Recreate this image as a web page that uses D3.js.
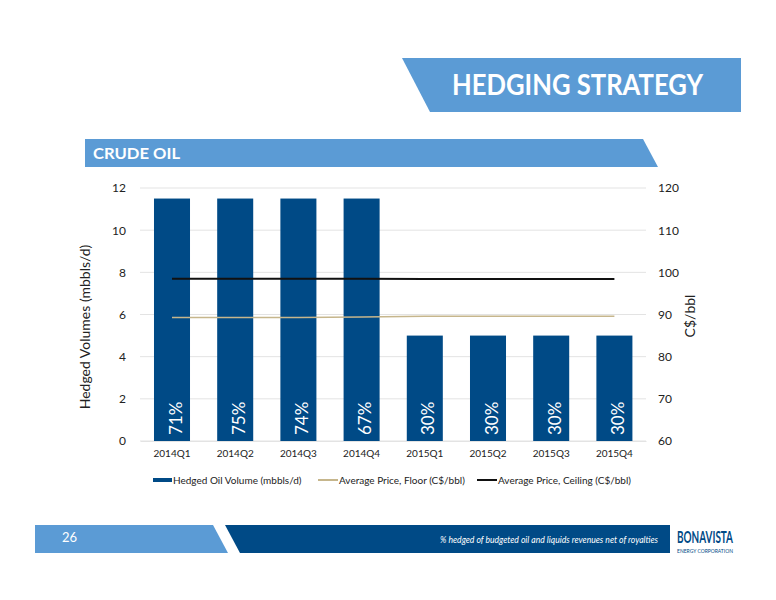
<!DOCTYPE html>
<html><head><meta charset="utf-8">
<script src="https://cdn.jsdelivr.net/npm/d3@7/dist/d3.min.js"></script>
<style>body{margin:0;background:#fff}svg{display:block;font-family:Lato,"Open Sans",sans-serif}</style>
</head><body><svg id="c" width="776" height="600"></svg>
<script>
const categories = ["2014Q1","2014Q2","2014Q3","2014Q4","2015Q1","2015Q2","2015Q3","2015Q4"];
const volumes = [11.5,11.5,11.5,11.5,5,5,5,5];
const floorPrice = [89.3,89.3,89.3,89.4,89.6,89.6,89.6,89.6];
const ceilingPrice = [98.5,98.5,98.5,98.5,98.4,98.4,98.4,98.4];
const pctLabels = ["71%","75%","74%","67%","30%","30%","30%","30%"];
const leftTicks = [0,2,4,6,8,10,12];
const rightTicks = [60,70,80,90,100,110,120];

const navy = "#004A86", blue = "#5B9BD5";
const svg = d3.select("#c");

// Title banner
svg.append("polygon").attr("points","402,58 741,58 741,112 430,112").attr("fill",blue);
svg.append("text").attr("x",452).attr("y",95).attr("fill","#fff").attr("font-weight","bold")
  .attr("font-size",28).attr("textLength",251).attr("lengthAdjust","spacingAndGlyphs").text("HEDGING STRATEGY");

// Crude oil banner
svg.append("polygon").attr("points","85,139 643,139 658,167 85,167").attr("fill",blue);
svg.append("text").attr("x",93).attr("y",159).attr("fill","#fff").attr("font-weight","bold")
  .attr("font-size",15).attr("textLength",87).attr("lengthAdjust","spacingAndGlyphs").text("CRUDE OIL");

// Scales
const x = d3.scaleBand().domain(categories).range([140.4,646]).paddingInner(0.43).paddingOuter(0.215);
const y = d3.scaleLinear().domain([0,12]).range([441,188]);
const y2 = d3.scaleLinear().domain([60,120]).range([441,188]);

// gridlines
svg.append("g").selectAll("line").data(leftTicks).join("line")
  .attr("x1",140).attr("x2",646).attr("y1",d=>y(d)).attr("y2",d=>y(d))
  .attr("stroke","#e3e3e3").attr("stroke-width",1);

// left axis
const la = svg.append("g").attr("transform","translate(140,0)")
  .call(d3.axisLeft(y).tickValues(leftTicks).tickSize(0).tickPadding(14).tickFormat(d3.format("d")));
la.select(".domain").remove();
la.selectAll("text").attr("font-size",12).attr("fill","#222").attr("font-family","Lato,sans-serif");

// right axis
const ra = svg.append("g").attr("transform","translate(646,0)")
  .call(d3.axisRight(y2).tickValues(rightTicks).tickSize(0).tickPadding(12));
ra.select(".domain").remove();
ra.selectAll("text").attr("font-size",12).attr("fill","#222").attr("font-family","Lato,sans-serif");

// bars
svg.append("g").selectAll("rect").data(categories).join("rect")
  .attr("x",d=>x(d)).attr("width",x.bandwidth())
  .attr("y",(d,i)=>y(volumes[i])).attr("height",(d,i)=>y(0)-y(volumes[i]))
  .attr("fill",navy);

// x axis
const xa = svg.append("g").attr("transform","translate(0,441)")
  .call(d3.axisBottom(x).tickSize(0).tickPadding(9));
xa.select(".domain").attr("stroke","#e3e3e3");
xa.selectAll("text").attr("font-size",10).attr("fill","#222").attr("font-family","Lato,sans-serif");

// lines
const cx = d=>x(d)+x.bandwidth()/2;
const line = arr => d3.line().x((d,i)=>cx(categories[i])).y(d=>y2(d))(arr);
svg.append("path").attr("d",line(floorPrice)).attr("fill","none").attr("stroke","#C6B68C").attr("stroke-width",1.6);
svg.append("path").attr("d",line(ceilingPrice)).attr("fill","none").attr("stroke","#111").attr("stroke-width",2);

// percent labels
svg.append("g").selectAll("text").data(categories).join("text")
  .attr("transform",d=>`translate(${cx(d)+9.5},435) rotate(-90)`)
  .attr("fill","#fff").attr("font-size",17).text((d,i)=>pctLabels[i]);

// axis titles
svg.append("text").attr("transform","translate(90,327) rotate(-90)").attr("text-anchor","middle")
  .attr("font-size",14).attr("fill","#222").text("Hedged Volumes (mbbls/d)");
svg.append("text").attr("transform","translate(695,316) rotate(-90)").attr("text-anchor","middle")
  .attr("font-size",14).attr("fill","#222").text("C$/bbl");

// legend
const lg = svg.append("g").attr("font-size",10).attr("fill","#222");
lg.append("rect").attr("x",153).attr("y",478).attr("width",19).attr("height",4).attr("fill",navy);
lg.append("text").attr("x",173).attr("y",483.5).text("Hedged Oil Volume (mbbls/d)");
lg.append("line").attr("x1",318).attr("x2",338).attr("y1",480).attr("y2",480).attr("stroke","#C6B68C").attr("stroke-width",2);
lg.append("text").attr("x",339).attr("y",483.5).text("Average Price, Floor (C$/bbl)");
lg.append("line").attr("x1",477).attr("x2",497).attr("y1",480).attr("y2",480).attr("stroke","#111").attr("stroke-width",2);
lg.append("text").attr("x",498).attr("y",483.5).text("Average Price, Ceiling (C$/bbl)");

// footer
svg.append("polygon").attr("points","35,525 213,525 228,553 35,553").attr("fill",blue);
svg.append("text").attr("x",62).attr("y",542).attr("fill","#fff").attr("font-size",13).text("26");
svg.append("polygon").attr("points","225,525 670,525 670,553 240,553").attr("fill",navy);
svg.append("text").attr("x",440).attr("y",543).attr("fill","#fff").attr("font-size",9).attr("font-style","italic")
  .attr("textLength",218).attr("lengthAdjust","spacingAndGlyphs")
  .text("% hedged of budgeted  oil and liquids revenues net of royalties");
svg.append("text").attr("transform","translate(677,543) scale(1,1.5)").attr("fill",navy).attr("font-weight","bold")
  .attr("font-size",11).attr("textLength",56).attr("lengthAdjust","spacingAndGlyphs").text("BONAVISTA");
svg.append("text").attr("x",677).attr("y",552.5).attr("fill",navy).attr("font-size",6)
  .attr("textLength",56).attr("lengthAdjust","spacingAndGlyphs").text("ENERGY CORPORATION");
</script></body></html>
